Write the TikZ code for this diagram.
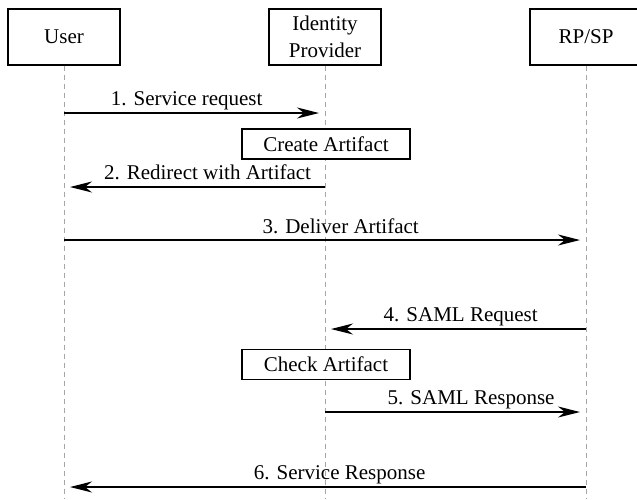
\documentclass[tikz,border=0pt]{standalone}
\usepackage{fontspec}
\setmainfont{Liberation Serif}
\usetikzlibrary{arrows.meta}

\begin{document}
\begin{tikzpicture}[x=1pt, y=-1pt,
    actor/.style={draw, fill=white, line width=1.1pt, minimum width=112pt,
        minimum height=56pt, inner sep=0pt, align=center,
        font=\fontsize{21}{27}\selectfont},
    task/.style={draw, fill=white, line width=1.1pt, minimum width=168pt,
        minimum height=30pt, inner sep=0pt, font=\fontsize{21}{25}\selectfont},
    lifeline/.style={draw=black!35, line width=0.9pt, dash pattern=on 5pt off 4pt},
    msg/.style={-{Stealth[length=22pt, width=11pt, inset=7pt]}, line width=1.3pt,
        shorten >=6pt},
    msglabel/.style={anchor=base, inner sep=0pt, yshift=8pt,
        font=\fontsize{21}{25}\selectfont}]

    % page size of the reference
    \useasboundingbox (0,0) rectangle (637,499);
    \clip (0,0) rectangle (637,499);

    % the three parties
    \node[actor] (user) at (64,37) {User};
    \node[actor] (idp)  at (325,37) {Identity\\Provider};
    \node[actor] (rpsp) at (586,37) {RP/SP};

    % ends of the life lines
    \coordinate (user end) at (64,499);
    \coordinate (idp end)  at (325,499);
    \coordinate (rpsp end) at (586,499);

    \draw[lifeline] (user.south) -- (user end);
    \draw[lifeline] (idp.south)  -- (idp end);
    \draw[lifeline] (rpsp.south) -- (rpsp end);

    % points on the life lines
    \coordinate (u1) at (64,113);   \coordinate (i1) at (325,113);
    \coordinate (u2) at (64,187);   \coordinate (i2) at (325,187);
    \coordinate (u3) at (64,240);   \coordinate (r3) at (586,240);
    \coordinate (i4) at (325,329);  \coordinate (r4) at (586,329);
    \coordinate (i5) at (325,412);  \coordinate (r5) at (586,412);
    \coordinate (u6) at (64,487);   \coordinate (r6) at (586,487);

    % local steps at the identity provider
    \node[task] (create) at (326,144) {Create Artifact};
    \node[task] (check)  at (326,364.5) {Check Artifact};

    % messages
    \draw[msg] (u1) -- node[msglabel, pos=0.47] {1. Service request} (i1);
    \draw[msg] (i2) -- node[msglabel, pos=0.45, yshift=-0.5pt] {2. Redirect with Artifact} (u2);
    \draw[msg] (u3) -- node[msglabel, pos=0.53, yshift=-1pt] {3. Deliver Artifact} (r3);
    \draw[msg] (r4) -- node[msglabel, pos=0.48] {4. SAML Request} (i4);
    \draw[msg] (i5) -- node[msglabel, pos=0.56] {5. SAML Response} (r5);
    \draw[msg] (r6) -- node[msglabel, pos=0.472] {6. Service Response} (u6);

\end{tikzpicture}
\end{document}
